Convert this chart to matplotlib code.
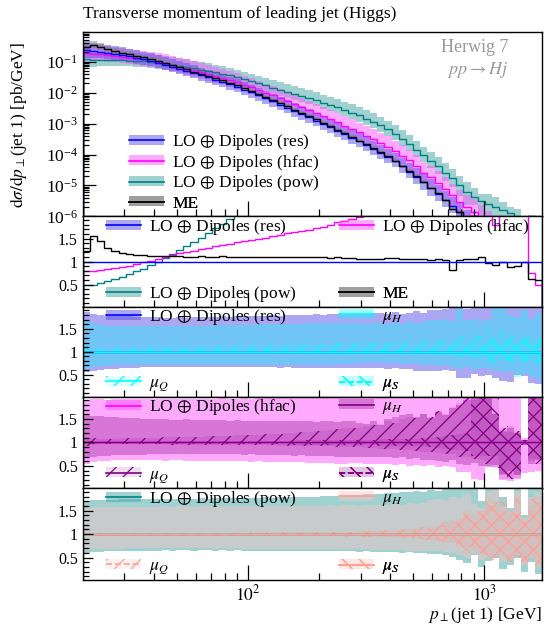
import numpy as np
import matplotlib
matplotlib.use("Agg")
import matplotlib.pyplot as plt
from matplotlib.patches import Patch
from matplotlib.lines import Line2D
from matplotlib.ticker import LogLocator, FixedLocator, NullFormatter

plt.rcParams['font.family'] = ['Liberation Serif', 'DejaVu Serif']
plt.rcParams['mathtext.fontset'] = 'stix'
plt.rcParams['hatch.linewidth'] = 0.9
plt.rcParams['axes.linewidth'] = 1.0
FS = 12.5
FS_R = 11.5

# ---------------- data ----------------
pt_edges = [20.0, 21.45, 23.0, 24.67, 26.46, 28.38, 30.44, 32.64, 35.0, 37.54,
            40.26, 43.18, 46.31, 49.66, 53.26, 57.12, 61.26, 65.70, 70.46, 75.56,
            81.04, 86.91, 93.21, 99.96, 107.2, 115.0, 123.3, 132.2, 141.8, 152.1,
            163.1, 175.0, 187.6, 201.2, 215.8, 231.4, 248.2, 266.2, 285.5, 306.2,
            328.4, 352.2, 377.7, 405.1, 434.4, 465.9, 499.7, 535.9, 574.7, 616.4,
            661.0, 708.9, 760.3, 815.4, 874.5, 937.9, 1005.7, 1078.7, 1156.9, 1240.7,
            1330.6, 1427.0, 1530.4, 1641.3, 1760.2]

# LO + Dipoles (res) cross section [pb/GeV]
res_xsec = [0.240, 0.226, 0.211, 0.195, 0.179, 0.164, 0.148, 0.133,
            0.119, 0.105, 0.0923, 0.0794, 0.0682, 0.0585, 0.0500, 0.0427,
            0.0363, 0.0308, 0.0261, 0.0221, 0.0186, 0.0153, 0.01245, 0.0101,
            0.00813, 0.00653, 0.00519, 0.00411, 0.00325, 0.00256, 0.00202, 0.00158,
            0.00124, 9.70e-4, 7.57e-4, 5.86e-4, 4.52e-4, 3.47e-4, 2.65e-4, 2.01e-4,
            1.52e-4, 1.14e-4, 8.49e-5, 5.96e-5, 4.12e-5, 2.82e-5, 1.91e-5, 1.26e-5,
            8.22e-6, 5.31e-6, 3.39e-6, 2.16e-6, 1.38e-6, 8.7e-7, 5.5e-7, 3.5e-7,
            2.2e-7, 1.4e-7, 8.7e-8, 5.5e-8, 3.5e-8, 2.2e-8, 1.4e-8, 8.7e-9]

# LO + Dipoles (pow) cross section [pb/GeV]
pow_xsec = [0.118, 0.113, 0.112, 0.113, 0.113, 0.110, 0.108, 0.105,
            0.101, 0.0968, 0.0914, 0.0857, 0.0791, 0.0731, 0.0670, 0.0610,
            0.0552, 0.0500, 0.0450, 0.0402, 0.0357, 0.0311, 0.0267, 0.0231,
            0.0198, 0.0170, 0.01452, 0.01233, 0.01057, 0.00897, 0.00767, 0.00650,
            0.00558, 0.00475, 0.00401, 0.00334, 0.00275, 0.00225, 0.00183, 0.00145,
            1.14e-3, 8.9e-4, 6.5e-4, 4.7e-4, 3.2e-4, 2.2e-4, 1.4e-4, 9.5e-5,
            6.3e-5, 4.2e-5, 2.6e-5, 1.7e-5, 1.0e-5, 6.3e-6, 4.2e-6, 3.2e-6,
            2.5e-6, 2.0e-6, 1.66e-6, 1.26e-6, 7.9e-7, 6.3e-7, 5.0e-7, 3.2e-7]

# ratios to LO + Dipoles (res)
hfac_over_res = [0.79, 0.80, 0.82, 0.84, 0.86, 0.88, 0.91, 0.94,
                 0.98, 1.02, 1.06, 1.10, 1.14, 1.18, 1.21, 1.24,
                 1.27, 1.30, 1.33, 1.36, 1.39, 1.42, 1.45, 1.47,
                 1.50, 1.52, 1.55, 1.58, 1.61, 1.64, 1.66, 1.68,
                 1.72, 1.76, 1.80, 1.85, 1.88, 1.92, 1.96, 2.02,
                 2.08, 2.05, 2.12, 2.18, 2.24, 2.28, 2.25, 2.05,
                 2.30, 2.35, 2.28, 2.20, 2.10, 2.30, 2.50, 2.60,
                 2.50, 1.80, 3.00, 3.10, 3.00, 3.20, 0.75, 0.50]
me_over_res = [1.22, 1.55, 1.45, 1.30, 1.22, 1.18, 1.16, 1.15,
               1.14, 1.13, 1.13, 1.12, 1.12, 1.12, 1.11, 1.11,
               1.12, 1.11, 1.11, 1.12, 1.11, 1.11, 1.10, 1.11,
               1.11, 1.10, 1.10, 1.11, 1.10, 1.09, 1.10, 1.09,
               1.09, 1.09, 1.08, 1.09, 1.08, 1.07, 1.06, 1.06,
               1.06, 1.06, 1.07, 1.07, 1.06, 1.06, 1.06, 1.05,
               1.04, 1.06, 1.04, 0.82, 1.04, 1.05, 1.05, 1.09,
               0.96, 0.93, 0.99, 0.88, 0.90, 0.98, 0.63, 0.60]

# ME uncertainty band (relative)
me_band_hi = [1.40, 1.35, 1.32, 1.30, 1.28, 1.26, 1.25, 1.24,
              1.23, 1.22, 1.22, 1.21, 1.21, 1.20, 1.20, 1.20,
              1.19, 1.19, 1.19, 1.18, 1.18, 1.18, 1.18, 1.17,
              1.17, 1.17, 1.17, 1.16, 1.16, 1.16, 1.16, 1.16,
              1.15, 1.15, 1.15, 1.15, 1.15, 1.15, 1.14, 1.14,
              1.14, 1.14, 1.14, 1.14, 1.14, 1.13, 1.13, 1.13,
              1.13, 1.13, 1.13, 1.13, 1.13, 1.13, 1.13, 1.13,
              1.13, 1.13, 1.13, 1.13, 1.13, 1.13, 1.13, 1.13]
me_band_lo = [0.75, 0.78, 0.80, 0.81, 0.82, 0.83, 0.83, 0.84,
              0.84, 0.85, 0.85, 0.85, 0.85, 0.86, 0.86, 0.86,
              0.86, 0.86, 0.86, 0.87, 0.87, 0.87, 0.87, 0.87,
              0.87, 0.87, 0.87, 0.87, 0.88, 0.88, 0.88, 0.88,
              0.88, 0.88, 0.88, 0.88, 0.88, 0.88, 0.88, 0.88,
              0.88, 0.88, 0.88, 0.88, 0.88, 0.88, 0.88, 0.88,
              0.88, 0.88, 0.88, 0.88, 0.88, 0.88, 0.88, 0.88,
              0.88, 0.88, 0.88, 0.88, 0.88, 0.88, 0.88, 0.88]

# ---- LO + Dipoles (res): scale-variation envelopes (relative) ----
res_tot_hi = [1.86, 1.82, 1.79, 1.78, 1.78, 1.77, 1.77, 1.76,
              1.76, 1.75, 1.75, 1.74, 1.74, 1.75, 1.74, 1.75,
              1.75, 1.76, 1.76, 1.77, 1.76, 1.77, 1.78, 1.77,
              1.78, 1.78, 1.79, 1.78, 1.79, 1.80, 1.79, 1.80,
              1.81, 1.80, 1.82, 1.81, 1.82, 1.83, 1.84, 1.83,
              1.85, 1.84, 1.83, 1.86, 1.82, 1.85, 1.88, 1.84,
              1.91, 1.90, 1.93, 1.95, 1.97, 1.92, 1.96, 2.05,
              2.10, 2.20, 2.30, 2.10, 2.40, 2.30, 2.50, 2.20]
res_tot_lo = [0.55, 0.58, 0.61, 0.62, 0.63, 0.64, 0.65, 0.65,
              0.66, 0.66, 0.66, 0.67, 0.67, 0.66, 0.67, 0.67,
              0.67, 0.67, 0.66, 0.67, 0.67, 0.66, 0.66, 0.67,
              0.66, 0.66, 0.66, 0.65, 0.66, 0.65, 0.65, 0.65,
              0.65, 0.64, 0.65, 0.64, 0.64, 0.65, 0.64, 0.64,
              0.64, 0.64, 0.63, 0.64, 0.63, 0.62, 0.58, 0.57,
              0.57, 0.58, 0.60, 0.58, 0.42, 0.43, 0.52, 0.46,
              0.50, 0.42, 0.36, 0.35, 0.50, 0.48, 0.31, 0.30]
res_H_hi = [1.67, 1.62, 1.58, 1.56, 1.55, 1.55, 1.55, 1.55,
            1.55, 1.55, 1.55, 1.56, 1.55, 1.56, 1.56, 1.57,
            1.57, 1.57, 1.58, 1.58, 1.58, 1.59, 1.59, 1.59,
            1.60, 1.60, 1.60, 1.61, 1.61, 1.61, 1.61, 1.62,
            1.62, 1.62, 1.62, 1.63, 1.62, 1.63, 1.62, 1.61,
            1.63, 1.62, 1.60, 1.64, 1.60, 1.66, 1.62, 1.64,
            1.70, 1.68, 1.72, 1.66, 1.94, 1.70, 1.72, 1.66,
            1.70, 2.00, 1.95, 1.80, 1.75, 1.90, 1.72, 1.85]
res_H_lo = [0.62, 0.66, 0.68, 0.69, 0.70, 0.70, 0.71, 0.71,
            0.71, 0.71, 0.71, 0.72, 0.71, 0.72, 0.72, 0.71,
            0.72, 0.72, 0.71, 0.72, 0.72, 0.71, 0.72, 0.72,
            0.72, 0.72, 0.72, 0.71, 0.72, 0.72, 0.71, 0.72,
            0.72, 0.72, 0.72, 0.73, 0.73, 0.74, 0.75, 0.75,
            0.75, 0.76, 0.75, 0.75, 0.74, 0.75, 0.73, 0.72,
            0.70, 0.68, 0.70, 0.66, 0.62, 0.66, 0.60, 0.64,
            0.62, 0.60, 0.55, 0.58, 0.45, 0.52, 0.48, 0.40]
res_Q_hi = [1.10, 1.08, 1.06, 1.06, 1.07, 1.08, 1.08, 1.09,
            1.09, 1.10, 1.10, 1.10, 1.11, 1.11, 1.11, 1.12,
            1.12, 1.12, 1.12, 1.13, 1.13, 1.13, 1.14, 1.14,
            1.14, 1.15, 1.15, 1.15, 1.15, 1.16, 1.16, 1.16,
            1.17, 1.17, 1.17, 1.18, 1.18, 1.19, 1.20, 1.20,
            1.21, 1.20, 1.22, 1.21, 1.23, 1.22, 1.20, 1.24,
            1.23, 1.25, 1.26, 1.24, 1.38, 1.30, 1.42, 1.35,
            1.50, 1.30, 1.45, 1.38, 1.25, 1.40, 1.30, 1.20]
res_Q_lo = [0.90, 0.94, 0.97, 0.98, 0.98, 0.98, 0.98, 0.98,
            0.98, 0.98, 0.98, 0.98, 0.98, 0.97, 0.98, 0.97,
            0.97, 0.97, 0.97, 0.97, 0.97, 0.97, 0.97, 0.97,
            0.97, 0.97, 0.96, 0.97, 0.96, 0.96, 0.96, 0.96,
            0.96, 0.96, 0.96, 0.96, 0.96, 0.95, 0.96, 0.95,
            0.96, 0.95, 0.95, 0.94, 0.95, 0.94, 0.93, 0.94,
            0.94, 0.93, 0.92, 0.95, 0.90, 0.88, 0.92, 0.85,
            0.80, 0.88, 0.82, 0.78, 0.85, 0.80, 0.85, 0.75]
res_S_hi = [1.05, 1.04, 1.03, 1.03, 1.03, 1.03, 1.03, 1.03,
            1.03, 1.03, 1.03, 1.03, 1.03, 1.03, 1.03, 1.03,
            1.03, 1.03, 1.03, 1.03, 1.03, 1.03, 1.03, 1.03,
            1.03, 1.03, 1.03, 1.03, 1.03, 1.04, 1.03, 1.04,
            1.04, 1.04, 1.04, 1.04, 1.04, 1.04, 1.05, 1.04,
            1.05, 1.05, 1.05, 1.06, 1.05, 1.06, 1.06, 1.07,
            1.07, 1.08, 1.08, 1.10, 1.12, 1.10, 1.15, 1.12,
            1.20, 1.25, 1.15, 1.22, 1.18, 1.28, 1.20, 1.30]
res_S_lo = [0.95, 0.96, 0.97, 0.97, 0.97, 0.97, 0.97, 0.97,
            0.97, 0.97, 0.97, 0.97, 0.97, 0.97, 0.97, 0.97,
            0.97, 0.97, 0.97, 0.97, 0.97, 0.97, 0.97, 0.97,
            0.97, 0.97, 0.97, 0.97, 0.97, 0.96, 0.97, 0.96,
            0.96, 0.96, 0.96, 0.96, 0.96, 0.96, 0.95, 0.96,
            0.95, 0.95, 0.95, 0.94, 0.95, 0.94, 0.94, 0.93,
            0.93, 0.92, 0.92, 0.90, 0.88, 0.90, 0.86, 0.88,
            0.80, 0.78, 0.85, 0.76, 0.82, 0.74, 0.80, 0.70]

# ---- LO + Dipoles (hfac) ----
hfac_tot_hi = [1.90, 1.92, 1.92, 1.91, 1.92, 1.93, 1.92, 1.93,
               1.93, 1.92, 1.93, 1.94, 1.93, 1.93, 1.94, 1.93,
               1.94, 1.93, 1.94, 1.95, 1.94, 1.94, 1.95, 1.94,
               1.95, 1.95, 1.96, 1.95, 1.96, 1.96, 1.97, 1.96,
               1.98, 1.99, 2.00, 2.02, 2.03, 2.05, 2.05, 2.08,
               2.10, 2.10, 2.12, 2.15, 2.20, 2.20, 2.25, 2.30,
               2.30, 2.35, 2.40, 2.40, 2.50, 2.50, 2.60, 2.60,
               2.70, 2.70, 2.80, 2.80, 2.90, 1.09, 3.00, 3.00]
hfac_tot_lo = [0.55, 0.58, 0.60, 0.61, 0.62, 0.62, 0.62, 0.62,
               0.62, 0.62, 0.62, 0.61, 0.62, 0.62, 0.61, 0.61,
               0.61, 0.61, 0.60, 0.61, 0.60, 0.60, 0.60, 0.59,
               0.60, 0.59, 0.59, 0.58, 0.58, 0.59, 0.58, 0.57,
               0.57, 0.56, 0.56, 0.55, 0.55, 0.56, 0.56, 0.55,
               0.55, 0.53, 0.54, 0.52, 0.53, 0.50, 0.52, 0.50,
               0.51, 0.48, 0.50, 0.47, 0.36, 0.36, 0.22, 0.20,
               0.50, 0.48, 0.20, 0.18, 0.22, 0.35, 0.36, 0.38]
hfac_H_hi = [1.58, 1.57, 1.56, 1.55, 1.54, 1.53, 1.52, 1.52,
             1.51, 1.51, 1.50, 1.50, 1.49, 1.49, 1.50, 1.49,
             1.48, 1.48, 1.49, 1.48, 1.47, 1.48, 1.47, 1.46,
             1.47, 1.46, 1.46, 1.45, 1.46, 1.45, 1.46, 1.45,
             1.44, 1.45, 1.46, 1.44, 1.47, 1.45, 1.42, 1.40,
             1.45, 1.38, 1.50, 1.55, 1.58, 1.62, 1.55, 1.60,
             1.52, 1.66, 1.58, 1.74, 1.80, 1.90, 2.00, 2.00,
             2.00, 1.60, 1.25, 1.30, 1.20, 1.05, 2.00, 2.00]
hfac_H_lo = [0.66, 0.69, 0.71, 0.72, 0.73, 0.73, 0.74, 0.74,
             0.74, 0.75, 0.75, 0.75, 0.75, 0.76, 0.75, 0.76,
             0.76, 0.76, 0.75, 0.76, 0.75, 0.75, 0.74, 0.75,
             0.74, 0.74, 0.73, 0.74, 0.73, 0.72, 0.73, 0.72,
             0.72, 0.71, 0.71, 0.70, 0.70, 0.70, 0.69, 0.70,
             0.69, 0.68, 0.70, 0.66, 0.68, 0.65, 0.66, 0.62,
             0.62, 0.60, 0.58, 0.62, 0.55, 0.52, 0.56, 0.50,
             0.48, 0.52, 0.32, 0.40, 0.30, 0.95, 0.55, 0.62]
hfac_Q_hi = [1.10, 1.09, 1.08, 1.08, 1.08, 1.09, 1.09, 1.09,
             1.10, 1.10, 1.10, 1.11, 1.11, 1.11, 1.12, 1.12,
             1.12, 1.13, 1.13, 1.14, 1.14, 1.15, 1.16, 1.16,
             1.17, 1.18, 1.18, 1.19, 1.20, 1.21, 1.22, 1.23,
             1.24, 1.25, 1.26, 1.28, 1.30, 1.30, 1.32, 1.35,
             1.38, 1.40, 1.45, 1.42, 1.50, 1.55, 1.52, 1.60,
             1.55, 1.68, 1.62, 1.75, 1.85, 1.96, 1.90, 2.00,
             2.00, 1.60, 1.30, 1.35, 1.25, 1.05, 2.00, 2.00]
hfac_Q_lo = [0.93, 0.95, 0.96, 0.96, 0.96, 0.96, 0.96, 0.96,
             0.96, 0.96, 0.96, 0.96, 0.95, 0.95, 0.95, 0.95,
             0.95, 0.95, 0.95, 0.94, 0.94, 0.94, 0.94, 0.94,
             0.94, 0.94, 0.94, 0.93, 0.93, 0.93, 0.93, 0.93,
             0.93, 0.92, 0.92, 0.91, 0.90, 0.90, 0.90, 0.89,
             0.88, 0.87, 0.86, 0.85, 0.84, 0.83, 0.82, 0.80,
             0.80, 0.78, 0.76, 0.75, 0.70, 0.68, 0.65, 0.62,
             0.55, 0.45, 0.30, 0.25, 0.30, 0.95, 0.60, 0.55]
hfac_S_hi = [1.04, 1.03, 1.03, 1.03, 1.03, 1.03, 1.03, 1.03,
             1.03, 1.03, 1.03, 1.03, 1.03, 1.03, 1.03, 1.03,
             1.03, 1.03, 1.03, 1.04, 1.04, 1.04, 1.04, 1.04,
             1.04, 1.04, 1.04, 1.04, 1.04, 1.05, 1.05, 1.05,
             1.05, 1.05, 1.05, 1.05, 1.06, 1.06, 1.06, 1.06,
             1.06, 1.07, 1.07, 1.07, 1.08, 1.08, 1.08, 1.09,
             1.10, 1.12, 1.14, 1.16, 1.18, 1.20, 2.00, 2.00,
             2.00, 2.00, 1.23, 1.23, 1.20, 1.05, 2.00, 2.00]
hfac_S_lo = [0.96, 0.97, 0.97, 0.97, 0.97, 0.97, 0.97, 0.97,
             0.97, 0.97, 0.97, 0.97, 0.97, 0.97, 0.97, 0.97,
             0.97, 0.97, 0.97, 0.96, 0.96, 0.96, 0.96, 0.96,
             0.96, 0.96, 0.96, 0.96, 0.96, 0.95, 0.95, 0.95,
             0.95, 0.95, 0.95, 0.95, 0.94, 0.94, 0.94, 0.94,
             0.94, 0.93, 0.93, 0.93, 0.92, 0.92, 0.92, 0.91,
             0.90, 0.88, 0.86, 0.84, 0.84, 0.82, 0.72, 0.72,
             0.72, 0.72, 0.22, 0.22, 0.25, 0.95, 0.65, 0.65]

# ---- LO + Dipoles (pow) ----
pow_tot_hi = [1.70, 1.72, 1.73, 1.74, 1.74, 1.75, 1.75, 1.75,
              1.76, 1.75, 1.76, 1.76, 1.75, 1.76, 1.77, 1.76,
              1.77, 1.76, 1.77, 1.77, 1.78, 1.77, 1.78, 1.78,
              1.78, 1.79, 1.78, 1.79, 1.79, 1.80, 1.79, 1.80,
              1.80, 1.81, 1.82, 1.81, 1.83, 1.84, 1.83, 1.85,
              1.86, 1.85, 1.88, 1.87, 1.90, 1.89, 1.92, 1.90,
              1.95, 1.93, 2.00, 1.96, 2.05, 2.10, 2.00, 1.70,
              2.10, 2.20, 1.80, 1.55, 2.20, 1.40, 2.20, 2.40]
pow_tot_lo = [0.59, 0.61, 0.62, 0.63, 0.64, 0.64, 0.65, 0.65,
              0.65, 0.65, 0.65, 0.66, 0.65, 0.66, 0.66, 0.65,
              0.66, 0.66, 0.65, 0.66, 0.65, 0.66, 0.65, 0.65,
              0.65, 0.65, 0.64, 0.65, 0.64, 0.64, 0.65, 0.64,
              0.64, 0.64, 0.63, 0.64, 0.63, 0.63, 0.62, 0.63,
              0.62, 0.62, 0.61, 0.62, 0.60, 0.61, 0.59, 0.60,
              0.58, 0.57, 0.55, 0.52, 0.45, 0.38, 0.55, 0.30,
              0.42, 0.50, 0.25, 0.35, 0.48, 0.20, 0.40, 0.15]
pow_H_hi = [1.56, 1.57, 1.58, 1.58, 1.58, 1.58, 1.58, 1.59,
            1.59, 1.59, 1.59, 1.60, 1.59, 1.60, 1.60, 1.59,
            1.60, 1.60, 1.59, 1.60, 1.60, 1.60, 1.60, 1.60,
            1.60, 1.61, 1.60, 1.61, 1.60, 1.61, 1.61, 1.61,
            1.61, 1.61, 1.62, 1.61, 1.62, 1.62, 1.61, 1.63,
            1.62, 1.63, 1.62, 1.64, 1.63, 1.66, 1.64, 1.67,
            1.72, 1.76, 1.74, 1.80, 1.78, 1.85, 1.65, 1.55,
            1.90, 1.95, 1.60, 1.50, 1.90, 1.35, 1.80, 1.90]
pow_H_lo = [0.67, 0.68, 0.69, 0.69, 0.69, 0.69, 0.70, 0.70,
            0.70, 0.70, 0.70, 0.70, 0.70, 0.70, 0.70, 0.70,
            0.70, 0.70, 0.69, 0.70, 0.69, 0.70, 0.69, 0.69,
            0.69, 0.69, 0.69, 0.69, 0.69, 0.69, 0.69, 0.69,
            0.69, 0.69, 0.68, 0.69, 0.68, 0.68, 0.68, 0.68,
            0.67, 0.67, 0.67, 0.66, 0.66, 0.65, 0.65, 0.64,
            0.64, 0.63, 0.62, 0.60, 0.55, 0.50, 0.60, 0.45,
            0.50, 0.55, 0.40, 0.45, 0.55, 0.35, 0.50, 0.30]
pow_Q_hi = [1.04, 1.03, 1.03, 1.03, 1.03, 1.03, 1.03, 1.03,
            1.03, 1.03, 1.03, 1.03, 1.03, 1.03, 1.03, 1.03,
            1.03, 1.03, 1.03, 1.03, 1.03, 1.04, 1.03, 1.04,
            1.04, 1.04, 1.04, 1.04, 1.04, 1.04, 1.05, 1.04,
            1.05, 1.05, 1.05, 1.05, 1.06, 1.05, 1.06, 1.06,
            1.07, 1.07, 1.08, 1.08, 1.10, 1.12, 1.14, 1.16,
            1.18, 1.20, 1.25, 1.30, 1.35, 1.40, 1.30, 1.50,
            1.60, 1.70, 1.50, 1.45, 1.70, 1.35, 1.60, 1.80]
pow_Q_lo = [0.96, 0.97, 0.97, 0.97, 0.97, 0.97, 0.97, 0.97,
            0.97, 0.97, 0.97, 0.97, 0.97, 0.97, 0.97, 0.97,
            0.97, 0.97, 0.97, 0.97, 0.97, 0.96, 0.97, 0.96,
            0.96, 0.96, 0.96, 0.96, 0.96, 0.96, 0.95, 0.96,
            0.95, 0.95, 0.95, 0.95, 0.94, 0.95, 0.94, 0.94,
            0.95, 0.95, 0.94, 0.94, 0.92, 0.91, 0.90, 0.88,
            0.87, 0.85, 0.82, 0.80, 0.75, 0.72, 0.70, 0.60,
            0.55, 0.50, 0.60, 0.45, 0.50, 0.40, 0.50, 0.35]
pow_S_hi = [1.03, 1.03, 1.03, 1.03, 1.03, 1.03, 1.03, 1.03,
            1.03, 1.03, 1.03, 1.03, 1.03, 1.03, 1.03, 1.03,
            1.03, 1.03, 1.03, 1.03, 1.03, 1.03, 1.03, 1.03,
            1.03, 1.03, 1.04, 1.04, 1.04, 1.04, 1.04, 1.04,
            1.04, 1.04, 1.05, 1.05, 1.05, 1.05, 1.05, 1.06,
            1.06, 1.06, 1.07, 1.07, 1.08, 1.09, 1.10, 1.12,
            1.14, 1.16, 1.20, 1.25, 1.30, 1.50, 1.45, 1.50,
            1.80, 1.60, 1.70, 1.50, 1.80, 1.35, 1.75, 1.70]
pow_S_lo = [0.97, 0.97, 0.97, 0.97, 0.97, 0.97, 0.97, 0.97,
            0.97, 0.97, 0.97, 0.97, 0.97, 0.97, 0.97, 0.97,
            0.97, 0.97, 0.97, 0.97, 0.97, 0.97, 0.97, 0.97,
            0.97, 0.97, 0.96, 0.96, 0.96, 0.96, 0.96, 0.96,
            0.96, 0.96, 0.95, 0.95, 0.95, 0.95, 0.95, 0.94,
            0.94, 0.94, 0.93, 0.93, 0.92, 0.91, 0.90, 0.89,
            0.88, 0.86, 0.84, 0.80, 0.70, 0.60, 0.65, 0.55,
            0.50, 0.45, 0.50, 0.40, 0.45, 0.35, 0.45, 0.30]

# ---------------- derived ----------------
edges = np.array(pt_edges)
res = np.array(res_xsec)
pw = np.array(pow_xsec)
hfac = res * np.array(hfac_over_res)
me = res * np.array(me_over_res)
one = res / res
A = np.array

# ---------------- figure ----------------
fig = plt.figure(figsize=(5.54, 6.26), dpi=100)
L, W = 0.1493, 0.8298
ax0 = fig.add_axes([L, 0.6542, W, 0.2947])
ax1 = fig.add_axes([L, 0.5101, W, 0.1441])
ax2 = fig.add_axes([L, 0.3663, W, 0.1438])
ax3 = fig.add_axes([L, 0.2200, W, 0.1463])
ax4 = fig.add_axes([L, 0.0735, W, 0.1465])
axes = [ax0, ax1, ax2, ax3, ax4]

C_RES, C_RESB = '#0000ff', '#5a50e6'
C_HF, C_HFB = '#ff00ff', '#ff55ff'
C_PW, C_PWB = '#008080', '#40a4a4'
C_ME, C_MEB = '#000000', '#808080'

# main panel
def band(ax, c, lo, hi, color, alpha=0.5):
    ax.stairs(c * A(hi), edges, baseline=c * A(lo), fill=True,
              color=color, alpha=alpha, lw=0)

band(ax0, pw, pow_tot_lo, pow_tot_hi, C_PWB)
band(ax0, hfac, hfac_tot_lo, hfac_tot_hi, C_HFB)
band(ax0, res, res_tot_lo, res_tot_hi, C_RESB)
band(ax0, me, me_band_lo, me_band_hi, C_MEB)
ax0.stairs(pw, edges, color=C_PW, lw=1.0)
ax0.stairs(hfac, edges, color=C_HF, lw=1.0)
ax0.stairs(res, edges, color=C_RES, lw=1.0)
ax0.stairs(me, edges, color=C_ME, lw=1.0)
ax0.set_yscale('log')
ax0.set_ylim(1e-6, 0.9)

def H(bandcol, linecol, alpha=0.5, hatch=None, ls='-', face=None):
    if hatch is None:
        p = Patch(facecolor=bandcol, alpha=alpha, lw=0)
    else:
        p = Patch(facecolor=face, edgecolor=bandcol, hatch=hatch, lw=0)
    return (p, Line2D([], [], color=linecol, lw=1.2, ls=ls))

def leg(ax, handle, label, x, y):
    lg = ax.legend([handle], [label], loc='center left', bbox_to_anchor=(x, y),
                   frameon=False, borderpad=0, borderaxespad=0, handlelength=2.0,
                   handleheight=0.5, handletextpad=0.5, fontsize=FS)
    ax.add_artist(lg)

lab_res = r'LO $\oplus$ Dipoles (res)'
lab_hf = r'LO $\oplus$ Dipoles (hfac)'
lab_pw = r'LO $\oplus$ Dipoles (pow)'
mx = 0.1007
leg(ax0, H(C_RESB, C_RES), lab_res, mx, 0.405)
leg(ax0, H(C_HFB, C_HF), lab_hf, mx, 0.292)
leg(ax0, H(C_PWB, C_PW), lab_pw, mx, 0.179)
leg(ax0, H(C_MEB, C_ME), 'ME', mx, 0.070)

ax0.text(0.925, 0.915, 'Herwig 7', transform=ax0.transAxes, ha='right', va='center',
         color='#999999', fontsize=13)
ax0.text(0.925, 0.795, r'$pp \rightarrow Hj$', transform=ax0.transAxes, ha='right',
         va='center', color='#999999', fontsize=13)

# ratio panel 1
ax1.stairs(pw / res, edges, color=C_PW, lw=1.0)
ax1.stairs(hfac / res, edges, color=C_HF, lw=1.0)
ax1.stairs(me / res, edges, color=C_ME, lw=1.0)
ax1.stairs(one, edges, color=C_RES, lw=1.0)
c1, c2, rt, rb = 0.0507, 0.5575, 0.885, 0.14
leg(ax1, H(C_RESB, C_RES), lab_res, c1, rt)
leg(ax1, H(C_HFB, C_HF), lab_hf, c2, rt)
leg(ax1, H(C_PWB, C_PW), lab_pw, c1, rb)
leg(ax1, H(C_MEB, C_ME), 'ME', c2, rb)

# scale-variation panels
def scale_panel(ax, tot_lo, tot_hi, H_lo, H_hi, Q_lo, Q_hi, S_lo, S_hi,
                bandcol, linecol, mucol, Hcol, Halpha, face, qls, sls, label):
    ax.stairs(A(tot_hi), edges, baseline=A(tot_lo), fill=True, color=bandcol, alpha=0.5, lw=0)
    ax.stairs(A(H_hi), edges, baseline=A(H_lo), fill=True, color=Hcol, alpha=Halpha, lw=0)
    ax.stairs(A(Q_hi), edges, baseline=A(Q_lo), fill=True, facecolor=face,
              edgecolor=mucol, hatch='//', lw=0)
    ax.stairs(A(S_hi), edges, baseline=A(S_lo), fill=True, facecolor=face,
              edgecolor=mucol, hatch='\\\\', lw=0)
    ax.stairs(one, edges, color=linecol, lw=1.0)
    ax.stairs(one, edges, color=mucol, lw=1.0)
    leg(ax, H(bandcol, linecol), label, c1, rt)
    leg(ax, (Patch(facecolor=Hcol, alpha=Halpha, lw=0),
             Line2D([], [], color=mucol, lw=1.2)), r'$\mu_H$', c2, rt)
    leg(ax, H(mucol, mucol, hatch='//', ls=qls, face=face), r'$\mu_Q$', c1, rb)
    leg(ax, H(mucol, mucol, hatch='\\\\', ls=sls, face=face), r'$\mu_S$', c2, rb)

scale_panel(ax2, res_tot_lo, res_tot_hi, res_H_lo, res_H_hi, res_Q_lo, res_Q_hi,
            res_S_lo, res_S_hi, C_RESB, C_RES, '#00ffff', '#00ffff', 0.35,
            (0, 1, 1, 0.12), '-', '--', lab_res)
scale_panel(ax3, hfac_tot_lo, hfac_tot_hi, hfac_H_lo, hfac_H_hi, hfac_Q_lo, hfac_Q_hi,
            hfac_S_lo, hfac_S_hi, C_HFB, C_HF, '#800080', '#800080', 0.3,
            (0.5, 0, 0.5, 0.12), '-', '--', lab_hf)
scale_panel(ax4, pow_tot_lo, pow_tot_hi, pow_H_lo, pow_H_hi, pow_Q_lo, pow_Q_hi,
            pow_S_lo, pow_S_hi, C_PWB, C_PW, '#ff9f94', '#f9c5c5', 0.45,
            (1, 0.62, 0.58, 0.12), '--', '-', lab_pw)

# axes styling
for ax in axes:
    ax.set_xscale('log')
    ax.set_xlim(edges[0], edges[-1])
    ax.xaxis.set_major_locator(FixedLocator([100, 1000]))
    ax.xaxis.set_minor_locator(FixedLocator([30, 40, 50, 60, 70, 80, 90,
                                             200, 300, 400, 500, 600, 700, 800, 900]))
    ax.xaxis.set_minor_formatter(NullFormatter())
    ax.tick_params(axis='both', which='both', direction='in', top=False, right=False,
                   labelsize=FS, width=0.9)
    ax.tick_params(axis='x', which='major', length=11)
    ax.tick_params(axis='x', which='minor', length=5)
    for s in ax.spines.values():
        s.set_linewidth(1.0)
for ax in axes[:-1]:
    ax.tick_params(axis='x', labelbottom=False)
ax4.set_xticklabels([r'$10^2$', r'$10^3$'])

ax0.yaxis.set_major_locator(LogLocator(base=10, numticks=12))
ax0.yaxis.set_minor_locator(LogLocator(base=10, subs=np.arange(2, 10), numticks=12))
ax0.yaxis.set_minor_formatter(NullFormatter())
ax0.tick_params(axis='y', which='major', length=9)
ax0.tick_params(axis='y', which='minor', length=4)

for ax in axes[1:]:
    ax.set_ylim(0.02, 1.98)
    ax.yaxis.set_major_locator(FixedLocator([0.5, 1.0, 1.5]))
    ax.set_yticklabels(['0.5', '1', '1.5'])
    ax.yaxis.set_minor_locator(FixedLocator([0.1, 0.2, 0.3, 0.4, 0.6, 0.7, 0.8, 0.9,
                                             1.1, 1.2, 1.3, 1.4, 1.6, 1.7, 1.8, 1.9]))
    ax.tick_params(axis='y', which='major', length=7, labelsize=FS_R)
    ax.tick_params(axis='y', which='minor', length=4)

fig.text(L, 0.9776, 'Transverse momentum of leading jet (Higgs)', ha='left',
         va='center', fontsize=FS)
fig.text(0.033, 0.80, r'$\mathrm{d}\sigma/\mathrm{d}p_\perp$(jet 1) [pb/GeV]',
         rotation=90, ha='center', va='center', fontsize=FS)
fig.text(0.9787, 0.018, r'$p_\perp$(jet 1) [GeV]', ha='right', va='center', fontsize=FS)

fig.savefig('out.png', dpi=100)
